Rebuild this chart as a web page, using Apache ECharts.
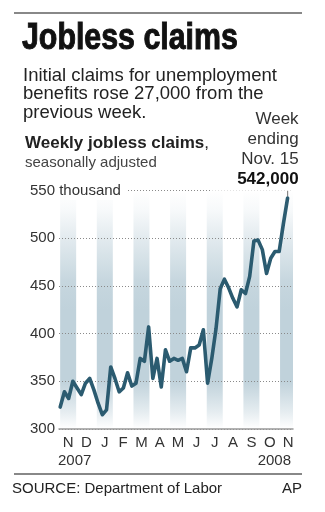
<!DOCTYPE html>
<html>
<head>
<meta charset="utf-8">
<script src="https://cdn.jsdelivr.net/npm/echarts@6/dist/echarts.min.js"></script>
<style>
  html, body { margin: 0; padding: 0; background: #fff; }
  #chart { width: 325px; height: 512px; }
</style>
</head>
<body>
<div id="chart"></div>
<script>
// Week-ending dates of the weekly initial jobless claims reports
const weekEnding = [
  '2007-11-03', '2007-11-10', '2007-11-17', '2007-11-24',
  '2007-12-01', '2007-12-08', '2007-12-15', '2007-12-22', '2007-12-29',
  '2008-01-05', '2008-01-12', '2008-01-19', '2008-01-26',
  '2008-02-02', '2008-02-09', '2008-02-16', '2008-02-23',
  '2008-03-01', '2008-03-08', '2008-03-15', '2008-03-22', '2008-03-29',
  '2008-04-05', '2008-04-12', '2008-04-19', '2008-04-26',
  '2008-05-03', '2008-05-10', '2008-05-17', '2008-05-24', '2008-05-31',
  '2008-06-07', '2008-06-14', '2008-06-21', '2008-06-28',
  '2008-07-05', '2008-07-12', '2008-07-19', '2008-07-26',
  '2008-08-02', '2008-08-09', '2008-08-16', '2008-08-23', '2008-08-30',
  '2008-09-06', '2008-09-13', '2008-09-20', '2008-09-27',
  '2008-10-04', '2008-10-11', '2008-10-18', '2008-10-25',
  '2008-11-01', '2008-11-08', '2008-11-15'
];

// Seasonally adjusted initial claims, thousands
const claims = [
  323, 339, 332, 350,
  343, 336, 348, 353, 341,
  327, 315, 320, 365,
  353, 339, 343, 359,
  345, 348, 374, 371, 407,
  353, 374, 344, 383,
  371, 374, 372, 374, 360,
  385, 385, 388, 404,
  348, 374, 405, 447,
  457, 448, 437, 428, 446,
  442, 460, 497, 498,
  488, 463, 479, 486,
  486, 515, 542
];

// Month initials along the bottom axis, November 2007 through November 2008
const monthLetters = ['N', 'D', 'J', 'F', 'M', 'A', 'M', 'J', 'J', 'A', 'S', 'O', 'N'];
// Months drawn with a shaded column behind the line
const shadedMonths = [0, 2, 4, 6, 8, 10, 12];
const yearLabels = ['2007', '2008'];

// Value axis settings (thousands)
const yMin = 300;
const yMax = 550;
const yStep = 50;

const FONT = "'Liberation Sans', Arial, Helvetica, sans-serif";
const LINE_COLOR = '#2b5b70';

const last = claims.length - 1;
const lastDate = new Date(weekEnding[last] + 'T00:00:00');
const monthAbbr = ['Jan.', 'Feb.', 'March', 'April', 'May', 'June', 'July', 'Aug.', 'Sept.', 'Oct.', 'Nov.', 'Dec.'];
const lastDayText = monthAbbr[lastDate.getMonth()] + ' ' + lastDate.getDate();
const lastValueText = (claims[last] * 1000).toLocaleString('en-US');

const lineData = weekEnding.map((d, i) => {
  if (i !== last) return [d, claims[i]];
  return {
    value: [d, claims[i]],
    symbol: 'circle',
    symbolSize: 1,
    label: {
      show: true,
      position: 'top',
      distance: 0,
      offset: [11, -7],
      align: 'right',
      verticalAlign: 'bottom',
      backgroundColor: '#fff',
      padding: [2, 0, 1, 26],
      formatter: '{a|Week}\n{a|ending}\n{a|' + lastDayText + '}\n{b|' + lastValueText + '}',
      rich: {
        a: { fontFamily: FONT, fontSize: 17, lineHeight: 20, color: '#333', align: 'right' },
        b: { fontFamily: FONT, fontSize: 17, lineHeight: 20, color: '#111', fontWeight: 'bold', align: 'right' }
      }
    }
  };
});

// Vertical fade used by the shaded month columns
const bandFill = new echarts.graphic.LinearGradient(0, 0, 0, 1, [
  { offset: 0, color: 'rgba(192,210,219,0)' },
  { offset: 0.08, color: 'rgba(192,210,219,0.12)' },
  { offset: 0.2, color: 'rgba(192,210,219,0.45)' },
  { offset: 0.38, color: 'rgba(192,210,219,0.9)' },
  { offset: 0.5, color: 'rgba(192,210,219,1)' },
  { offset: 0.8, color: 'rgba(192,210,219,1)' },
  { offset: 0.93, color: 'rgba(192,210,219,0.4)' },
  { offset: 1, color: 'rgba(192,210,219,0)' }
]);

function renderBand(params, api) {
  const m = api.value(0);
  const top = api.coord([m, yMax]);
  const bottom = api.coord([m, yMin]);
  const half = 8;
  const cs = params.coordSys;
  const rect = echarts.graphic.clipRectByRect(
    { x: top[0] - half, y: top[1], width: half * 2, height: bottom[1] - top[1] },
    { x: cs.x, y: cs.y, width: cs.width, height: cs.height }
  );
  if (!rect) return null;
  return { type: 'rect', shape: rect, style: { fill: bandFill }, silent: true };
}

const chart = echarts.init(document.getElementById('chart'), null, { renderer: 'canvas' });

const option = {
  animation: false,
  backgroundColor: '#fff',
  textStyle: { fontFamily: FONT },
  grid: { left: 59, right: 32, top: 190.5, bottom: 83, containLabel: false },
  xAxis: [
    {
      // weekly time scale for the claims line
      type: 'time',
      min: '2007-11-01',
      max: '2008-11-24',
      show: false
    },
    {
      // month bands, one unit per month, centred on the initials
      type: 'value',
      position: 'bottom',
      min: -0.5,
      max: 12.27,
      interval: 0.5,
      z: 4,
      axisLine: { show: true, lineStyle: { color: '#999', width: 1.5 } },
      axisTick: { show: false },
      splitLine: { show: false },
      axisLabel: {
        show: true,
        margin: 6,
        fontSize: 15,
        color: '#333',
        fontFamily: FONT,
        showMinLabel: true,
        showMaxLabel: true,
        formatter: v => (Number.isInteger(v) && v >= 0 && v < monthLetters.length) ? monthLetters[v] : ''
      }
    }
  ],
  yAxis: {
    type: 'value',
    min: yMin,
    max: yMax,
    interval: yStep,
    z: 3,
    axisLine: { show: false },
    axisTick: { show: false },
    splitLine: { show: true, lineStyle: { color: '#8a8a8a', width: 1, type: [1, 2] } },
    axisLabel: {
      align: 'left',
      margin: 29,
      fontSize: 15,
      color: '#333',
      fontFamily: FONT,
      formatter: v => v === yMax ? '{t|' + v + ' thousand}' : String(v),
      rich: {
        t: { fontSize: 15, color: '#333', fontFamily: FONT, backgroundColor: '#fff', padding: [2, 7, 2, 0] }
      }
    }
  },
  series: [
    {
      type: 'custom',
      xAxisIndex: 1,
      z: 1,
      silent: true,
      renderItem: renderBand,
      encode: { x: 0 },
      data: shadedMonths.map(m => [m])
    },
    {
      type: 'line',
      xAxisIndex: 0,
      z: 5,
      symbol: 'none',
      showSymbol: true,
      lineStyle: { color: LINE_COLOR, width: 3.6, cap: 'round', join: 'round' },
      itemStyle: { color: LINE_COLOR },
      data: lineData,
      markPoint: {
        silent: true,
        symbol: 'rect',
        symbolSize: [1.2, 7],
        symbolOffset: [0, -5],
        itemStyle: { color: '#888' },
        label: { show: false },
        data: [{ coord: [weekEnding[last], claims[last]] }]
      }
    }
  ],
  graphic: [
    { type: 'line', shape: { x1: 14, y1: 13, x2: 302, y2: 13 }, style: { stroke: '#888', lineWidth: 2 } },
    {
      // condensed headline: bold face squeezed horizontally
      type: 'text', x: 22, y: 39, scaleX: 0.82,
      style: { text: 'Jobless claims', fontFamily: FONT, fontSize: 37, fontWeight: 'bold', fill: '#111', stroke: '#111', lineWidth: 1, verticalAlign: 'middle' }
    },
    { type: 'text', x: 23, y: 75.5, style: { text: 'Initial claims for unemployment', fontFamily: FONT, fontSize: 18.5, fill: '#222', verticalAlign: 'middle' } },
    { type: 'text', x: 23, y: 94, style: { text: 'benefits rose 27,000 from the', fontFamily: FONT, fontSize: 18.5, fill: '#222', verticalAlign: 'middle' } },
    { type: 'text', x: 23, y: 112.5, style: { text: 'previous week.', fontFamily: FONT, fontSize: 18.5, fill: '#222', verticalAlign: 'middle' } },
    {
      type: 'text', x: 25, y: 143,
      style: {
        text: '{b|Weekly jobless claims}{r|,}',
        verticalAlign: 'middle',
        rich: {
          b: { fontFamily: FONT, fontSize: 17, fontWeight: 'bold', fill: '#222' },
          r: { fontFamily: FONT, fontSize: 17, fill: '#222' }
        }
      }
    },
    { type: 'text', x: 25, y: 163, style: { text: 'seasonally adjusted', fontFamily: FONT, fontSize: 15, fill: '#444', verticalAlign: 'middle' } },
    { type: 'text', x: 58, y: 461, style: { text: yearLabels[0], fontFamily: FONT, fontSize: 15, fill: '#333', verticalAlign: 'middle' } },
    { type: 'text', x: 291, y: 461, style: { text: yearLabels[1], fontFamily: FONT, fontSize: 15, fill: '#333', align: 'right', verticalAlign: 'middle' } },
    { type: 'line', shape: { x1: 14, y1: 474, x2: 302, y2: 474 }, style: { stroke: '#888', lineWidth: 2 } },
    { type: 'text', x: 12, y: 489, style: { text: 'SOURCE: Department of Labor', fontFamily: FONT, fontSize: 15, fill: '#222', verticalAlign: 'middle' } },
    { type: 'text', x: 302, y: 489, style: { text: 'AP', fontFamily: FONT, fontSize: 15, fill: '#222', align: 'right', verticalAlign: 'middle' } }
  ]
};

chart.setOption(option);
</script>
</body>
</html>
